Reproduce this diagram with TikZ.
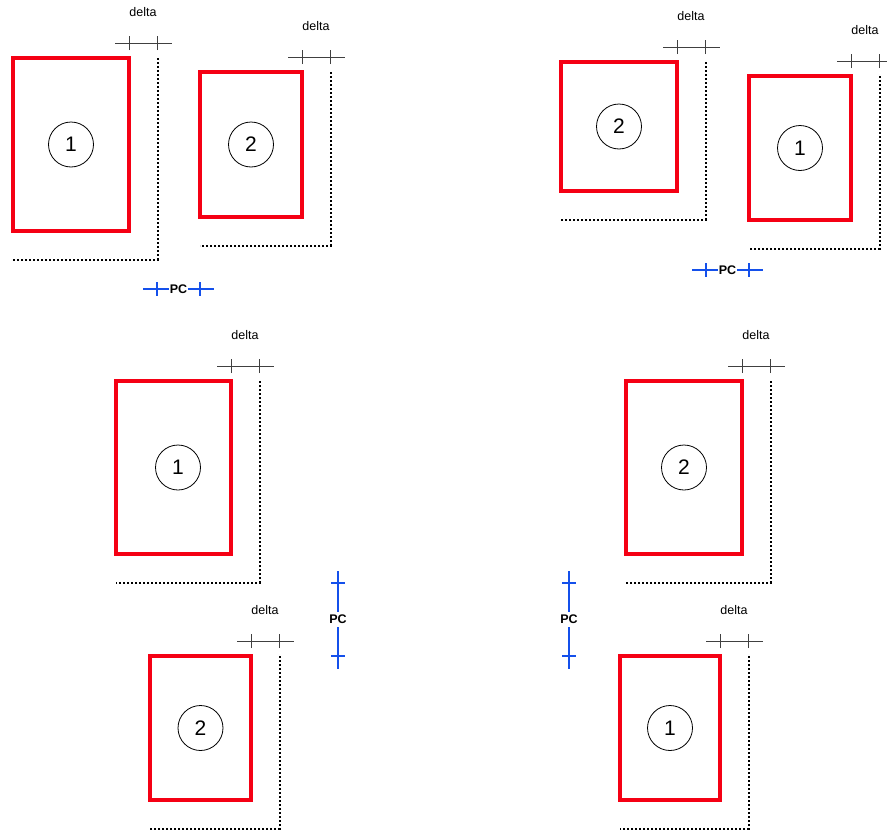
\documentclass[tikz,border=0pt]{standalone}
\usepackage{fontspec}
\setmainfont{Liberation Sans}
\definecolor{pcblue}{RGB}{20,80,235}
\definecolor{sheetred}{RGB}{245,0,20}

\tikzset{
  sheet/.style={draw=sheetred, line width=4pt, rectangle, inner sep=0pt, outer sep=0pt},
  num/.style={draw, circle, line width=0.8pt, minimum size=45pt, inner sep=0pt,
    font=\fontsize{21}{21}\selectfont},
  margin/.style={line width=2pt, dash pattern=on 2pt off 2pt},
  dim/.style={draw=black!75, line width=1pt},
  lbl/.style={font=\fontsize{12.5}{12.5}\selectfont},
  pcline/.style={draw=pcblue, line width=1.4pt},
  pclbl/.style={fill=white, inner sep=1pt, font=\fontsize{12.5}{12.5}\selectfont\bfseries},
}

\newcommand{\margw}{28.5pt}

% one printed page: [number offset], name, left, top, right, bottom, number
\newcommand{\pagebox}[7][0]{%
  \node[sheet, minimum width={(#5-#3)*1pt}, minimum height={(#6-#4)*1pt}]
    (#2) at ({(#3+#5)/2},{(#4+#6)/2}) {};
  \node[num] (#2n) at ([xshift=#1pt]#2.center) {#7};
  \coordinate (#2m) at ([shift={(\margw,-\margw)}]#2.south east);
  \coordinate (#2t) at (#2m |- #2.north east);
  \draw[margin] (#2t) -- (#2m) -- (#2.south west |- #2m);
  \coordinate (#2l) at ([shift={(-14pt,15pt)}]#2.north east);
  \coordinate (#2r) at ([shift={(14pt,15pt)}]#2t);
  \draw[dim] (#2l) -- (#2r);
  \draw[dim] ([yshift=8pt]#2.north east) -- ++(0,14pt);
  \draw[dim] ([yshift=8pt]#2t) -- ++(0,14pt);
  \node[lbl] (#2d) at ([shift={(14pt,46pt)}]#2.north east) {delta};
}

% PC gap, horizontal: name, x1, x2, y
\newcommand{\pch}[4]{%
  \coordinate (#1a) at ({#2-14},#4);
  \coordinate (#1b) at ({#3+14},#4);
  \draw[pcline] (#1a) -- (#1b);
  \draw[pcline] (#2,{#4-7}) -- (#2,{#4+7});
  \draw[pcline] (#3,{#4-7}) -- (#3,{#4+7});
  \node[pclbl] (#1) at ({(#2+#3)/2},#4) {PC};
}
% PC gap, vertical: name, x, y1, y2
\newcommand{\pcv}[4]{%
  \coordinate (#1a) at (#2,{#3-12});
  \coordinate (#1b) at (#2,{#4+13});
  \draw[pcline] (#1a) -- (#1b);
  \draw[pcline] ({#2-7},#3) -- ({#2+7},#3);
  \draw[pcline] ({#2-7},#4) -- ({#2+7},#4);
  \node[pclbl, inner sep=3pt] (#1) at (#2,{(#3+#4)/2}) {PC};
}

\begin{document}
\begin{tikzpicture}[x=1pt, y=-1pt]
  \useasboundingbox (0,0) rectangle (887,830);

  % side by side, 1 then 2
  \pagebox{a1}{13}{58}{129}{231}{1}
  \pagebox{a2}{200}{72}{302}{217}{2}
  \pch{pa}{157}{200}{289}

  % side by side, 2 then 1
  \pagebox{b2}{561}{62}{677}{191}{2}
  \pagebox{b1}{749}{76}{851}{220}{1}
  \pch{pb}{706}{749}{270}

  % stacked, 1 over 2
  \pagebox[4.5]{c1}{116}{381}{231}{554}{1}
  \pagebox{c2}{150}{656}{251}{800}{2}
  \pcv{pc}{338}{583}{656}

  % stacked, 2 over 1
  \pagebox{d2}{626}{381}{742}{554}{2}
  \pagebox{d1}{620}{656}{720}{800}{1}
  \pcv{pd}{569}{583}{656}
\end{tikzpicture}
\end{document}
